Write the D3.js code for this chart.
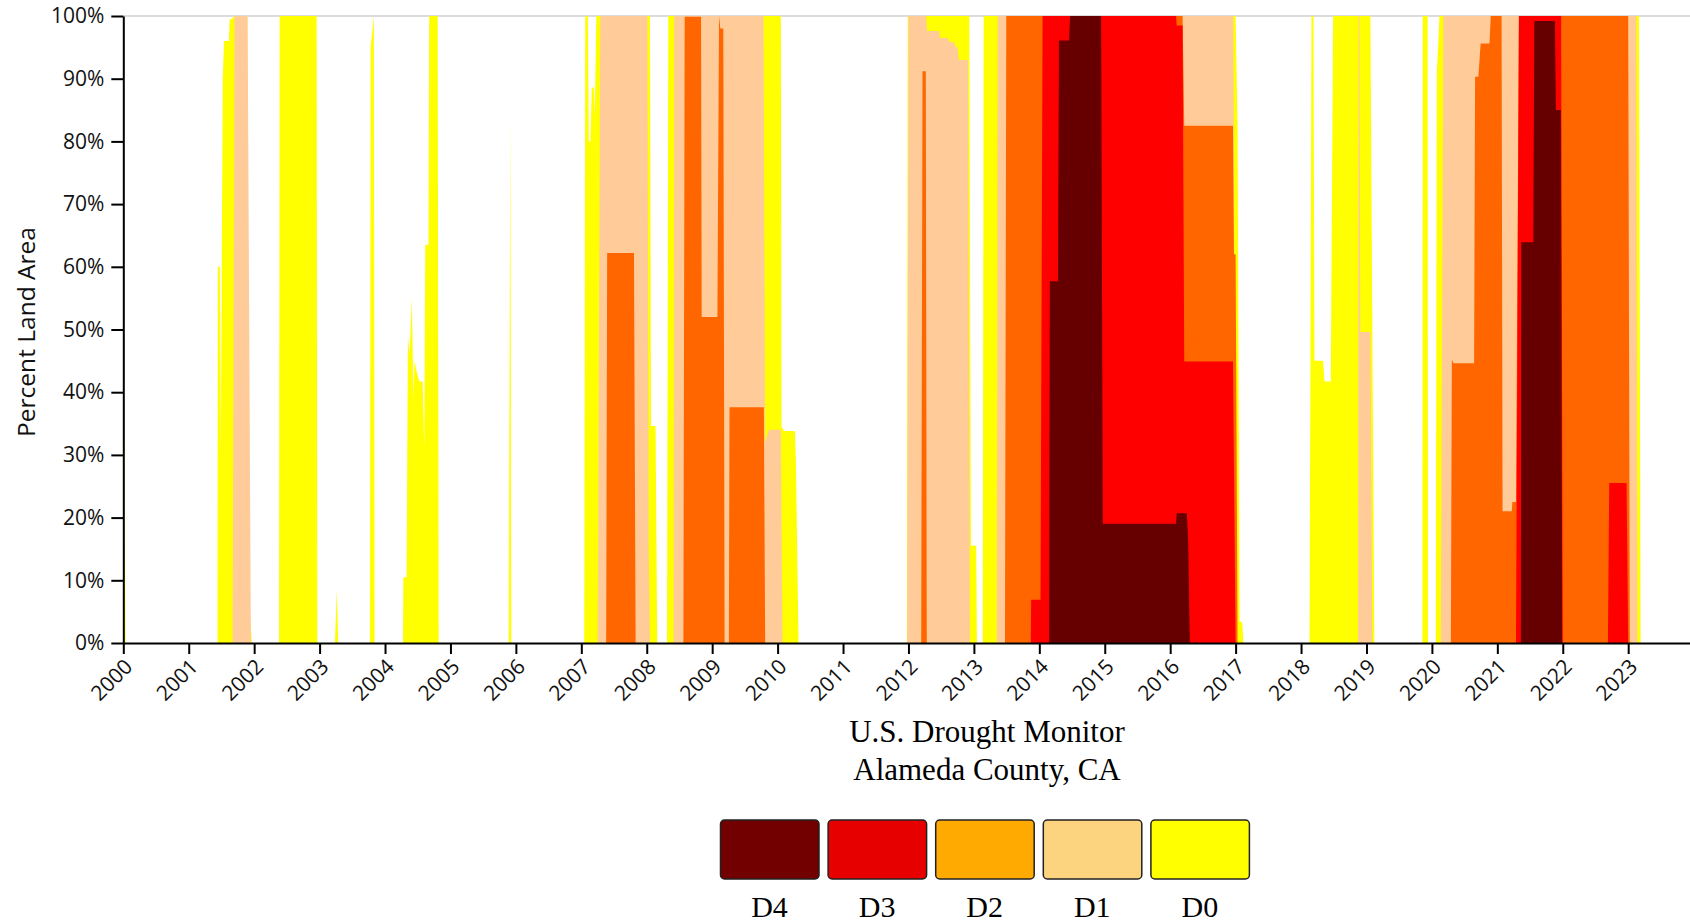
<!DOCTYPE html>
<html>
<head>
<meta charset="utf-8">
<script src="https://cdn.jsdelivr.net/npm/d3@7"></script>
<style>
  body { margin: 0; background: #fff; overflow: hidden; }
  .axis text { font-family: "Open Sans", sans-serif; font-size: 21px; fill: #111; }
  .axis path, .axis line { stroke: #000; stroke-width: 2px; }
</style>
</head>
<body>
<div id="my_dataviz"></div>
<script>
// drought categories, drawn from lightest (D0) to worst (D4)
var categories = ["D0", "D1", "D2", "D3", "D4"];
var areaColors = ["#FFFF00", "#FFCC99", "#FF6600", "#FF0000", "#660000"];
var legendLabels = ["D4", "D3", "D2", "D1", "D0"];
var legendColors = ["#730000", "#E60000", "#FFAA00", "#FCD37F", "#FFFF00"];
var yearTicks = d3.range(2000, 2024);
var pctTicks = d3.range(0, 101, 10);

// cumulative percent of land area, [decimal year, percent]
var d0 = [[2000.0,54],[2000.035,0],
  [2001.44,0],[2001.445,60],[2001.475,60],[2001.49,31],[2001.52,90],[2001.54,96],[2001.615,96],[2001.625,99.5],[2001.66,99.5],[2001.69,100],[2001.895,100],[2001.92,7],[2001.965,0],
  [2002.38,0],[2002.39,100],[2002.955,100],[2002.965,0],
  [2003.235,0],[2003.262,8.5],[2003.285,0],
  [2003.77,0],[2003.78,95],[2003.83,100],[2003.84,0],
  [2004.275,0],[2004.28,10.5],[2004.33,10.5],[2004.35,49],[2004.375,46],[2004.41,55],[2004.435,39],[2004.45,45],[2004.49,43],[2004.525,41.7],[2004.575,41.7],[2004.6,31],[2004.615,63.5],[2004.665,63.5],[2004.675,100],[2004.805,100],[2004.82,0],
  [2005.89,0],[2005.915,84],[2005.93,0],
  [2007.045,0],[2007.06,100],[2007.1,100],[2007.115,80],[2007.14,80],[2007.16,88.6],[2007.19,88.6],[2007.205,84],[2007.23,100],[2008.05,100],[2008.065,34.6],[2008.135,34.6],[2008.16,0],
  [2008.31,0],[2008.33,100],[2010.05,100],[2010.06,34.5],[2010.1,33.8],[2010.265,33.8],[2010.28,28.8],[2010.32,0],
  [2011.975,0],[2011.99,100],[2012.93,100],[2012.955,15.5],[2013.035,15.5],[2013.046,0],
  [2013.135,0],[2013.15,100],[2017.0,100],[2017.03,82],[2017.06,3.4],[2017.1,3.4],[2017.12,0],
  [2018.13,0],[2018.16,100],[2018.19,100],[2018.205,45],[2018.335,45],[2018.36,41.7],[2018.455,41.7],[2018.49,100],[2019.06,100],[2019.12,0],
  [2019.855,0],[2019.86,100],[2019.935,100],[2019.94,0],
  [2020.06,0],[2020.075,91],[2020.095,95],[2020.115,100],[2023.165,100],[2023.19,0]];

var d1 = [[2001.67,0],[2001.7,100],[2001.9,100],[2001.95,0],
  [2007.25,0],[2007.29,100],[2008.01,100],[2008.03,15],[2008.05,0],
  [2008.41,0],[2008.42,100],[2009.785,100],[2009.81,32],[2009.87,34],[2010.05,34],[2010.075,0],
  [2011.98,0],[2012.0,100],[2012.27,100],[2012.285,97.6],[2012.47,97.6],[2012.48,96.5],[2012.6,96.5],[2012.63,95.8],[2012.7,95.8],[2012.72,95],[2012.75,95],[2012.77,93],[2012.91,93],[2012.94,0],
  [2013.35,0],[2013.365,100],[2016.965,100],[2017.0,0],
  [2018.87,0],[2018.88,100],[2018.895,100],[2018.905,49.6],[2019.06,49.6],[2019.09,0],
  [2020.135,0],[2020.175,100],[2023.125,100],[2023.14,0]];

var d2 = [[2007.38,0],[2007.395,62.2],[2007.805,62.2],[2007.83,0],
  [2008.56,0],[2008.58,99.9],[2008.83,99.9],[2008.84,52],[2009.08,52],[2009.105,100],[2009.125,98],[2009.17,98],[2009.19,0],
  [2009.255,0],[2009.265,37.6],[2009.79,37.6],[2009.81,0],
  [2012.195,0],[2012.215,91.2],[2012.265,91.2],[2012.28,0],
  [2013.475,0],[2013.495,100],[2016.19,100],[2016.215,82.5],[2016.96,82.5],[2016.975,62],[2017.0,62],[2017.03,0],
  [2020.29,0],[2020.305,45.2],[2020.33,44.6],[2020.645,44.6],[2020.66,90.3],[2020.71,90.3],[2020.745,95.6],[2020.88,95.6],[2020.9,100],[2021.065,100],[2021.08,21],[2021.22,21],[2021.23,22.5],[2021.285,22.5],[2021.33,100],[2023.0,100],[2023.025,0]];

var d3v = [[2013.87,0],[2013.875,6.9],[2014.018,6.9],[2014.05,100],[2016.09,100],[2016.1,98.5],[2016.19,98.5],[2016.215,44.9],[2016.96,44.9],[2017.0,0],
  [2021.285,0],[2021.33,100],[2021.975,100],[2022.0,0],
  [2022.69,0],[2022.71,25.5],[2022.975,25.5],[2023.0,0]];

var d4 = [[2014.15,0],[2014.16,57.7],[2014.285,57.7],[2014.3,96.1],[2014.455,96.1],[2014.47,100],[2014.945,100],[2014.97,19],[2016.09,19],[2016.1,20.7],[2016.255,20.7],[2016.275,16.3],[2016.3,0],
  [2021.36,0],[2021.365,63.9],[2021.55,63.9],[2021.565,99.2],[2021.88,99.2],[2021.895,85],[2021.97,85],[2021.99,0]];

var series = [d0, d1, d2, d3v, d4];

// set the dimensions and margins of the graph
var margin = {top: 16, right: 0, bottom: 279, left: 123.3},
    width = 1690 - margin.left - margin.right,
    height = 922 - margin.top - margin.bottom;

var svg = d3.select("#my_dataviz")
  .append("svg")
    .attr("width", 1690)
    .attr("height", 922)
  .append("g")
    .attr("transform", "translate(" + margin.left + "," + margin.top + ")");

// X axis: one year = 65.43px, axis runs past the right edge
var x = d3.scaleLinear()
  .domain([2000, 2000 + width / 65.43])
  .range([0, width]);

var y = d3.scaleLinear()
  .domain([0, 100])
  .range([height, 0]);

// faint line along the 100% level
svg.append("line")
  .attr("x1", 0).attr("x2", width)
  .attr("y1", y(100)).attr("y2", y(100))
  .attr("stroke", "#d0d0d0")
  .attr("stroke-width", 1.5);

var area = d3.area()
  .x(function(d) { return x(d[0]); })
  .y0(y(0))
  .y1(function(d) { return y(d[1]); });

// wrap every series with zero at both ends so each is a closed shape
series.forEach(function(pts, i) {
  var full = [[2000, 0]].concat(pts).concat([[2023.5, 0]]);
  svg.append("path")
    .datum(full)
    .attr("fill", areaColors[i])
    .attr("d", area);
});

svg.append("g")
  .attr("class", "axis")
  .attr("transform", "translate(0," + height + ")")
  .call(d3.axisBottom(x).tickValues(yearTicks).tickFormat(d3.format("d")).tickSize(11).tickSizeOuter(0))
  .selectAll("text")
    .attr("x", 0).attr("y", 0).attr("dy", 0)
    .attr("transform", "translate(10,25)rotate(-45)")
    .style("text-anchor", "end");

svg.append("g")
  .attr("class", "axis")
  .call(d3.axisLeft(y).tickValues(pctTicks).tickFormat(function(d) { return d + "%"; }).tickSize(12).tickSizeOuter(0))
  .selectAll("text")
    .attr("x", -19);

svg.append("text")
  .attr("transform", "rotate(-90)")
  .attr("x", -316)
  .attr("y", 35 - margin.left)
  .style("text-anchor", "middle")
  .style("font-family", "'Open Sans', sans-serif")
  .style("font-size", "24.5px")
  .attr("fill", "#111")
  .text("Percent Land Area");

// titles and legend in page coordinates
var root = d3.select("#my_dataviz svg");
var titleFont = "'Liberation Serif', 'Times New Roman', serif";

root.append("text")
  .attr("x", 987).attr("y", 742)
  .attr("text-anchor", "middle")
  .style("font-family", titleFont)
  .style("font-size", "31px")
  .text("U.S. Drought Monitor");

root.append("text")
  .attr("x", 987).attr("y", 780)
  .attr("text-anchor", "middle")
  .style("font-family", titleFont)
  .style("font-size", "31px")
  .text("Alameda County, CA");

var legend = root.selectAll(".leg")
  .data(legendLabels)
  .enter()
  .append("g")
    .attr("class", "leg")
    .attr("transform", function(d, i) { return "translate(" + (720.5 + i * 107.6) + ",820)"; });

legend.append("rect")
  .attr("width", 98.5)
  .attr("height", 59)
  .attr("rx", 4)
  .attr("fill", function(d, i) { return legendColors[i]; })
  .attr("stroke", "#222")
  .attr("stroke-width", 1.5);

legend.append("text")
  .attr("x", 49)
  .attr("y", 97)
  .attr("text-anchor", "middle")
  .style("font-family", titleFont)
  .style("font-size", "30px")
  .text(function(d) { return d; });
</script>
</body>
</html>
